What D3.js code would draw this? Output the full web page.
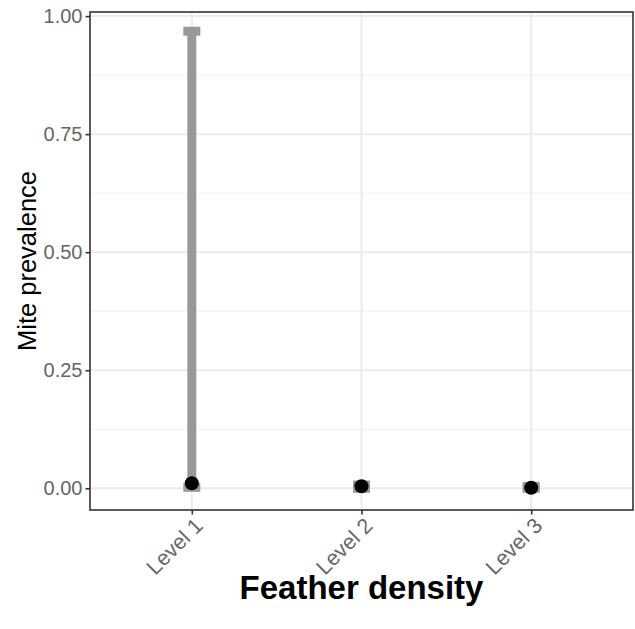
<!DOCTYPE html>
<html><head><meta charset="utf-8">
<script src="https://cdn.jsdelivr.net/npm/d3@7"></script>
<style>body{margin:0;background:#fff}svg{display:block}text{font-family:"Liberation Sans",Arial,sans-serif}</style>
</head><body>
<svg id="c" width="635" height="629"></svg>
<script>
const categories = ["Level 1", "Level 2", "Level 3"];
const meanValues = [0.0106, 0.0042, 0.0012];
const lowerValues = [0.002, 0.0, 0.0];
const upperValues = [0.968, 0.007, 0.004];
const yTicks = [0, 0.25, 0.5, 0.75, 1.0];
const yMinorTicks = [0.125, 0.375, 0.625, 0.875];
const yDomain = [-0.046, 1.0087];
const xTitle = "Feather density";
const yTitle = "Mite prevalence";

const svg = d3.select("#c");
const L = 90, R = 633, T = 12, B = 510;
const x = d3.scalePoint().domain(categories).range([L, R]).padding(0.6);
const y = d3.scaleLinear().domain(yDomain).range([B, T]);

// grid
const g = svg.append("g");
g.selectAll(".minor").data(yMinorTicks).enter().append("line")
  .attr("x1", L).attr("x2", R).attr("y1", d => y(d)).attr("y2", d => y(d))
  .attr("stroke", "#f0f0f0").attr("stroke-width", 1);
g.selectAll(".major").data(yTicks).enter().append("line")
  .attr("x1", L).attr("x2", R).attr("y1", d => y(d)).attr("y2", d => y(d))
  .attr("stroke", "#ebebeb").attr("stroke-width", 2);
g.selectAll(".vmajor").data(categories).enter().append("line")
  .attr("y1", T).attr("y2", B).attr("x1", d => x(d)).attr("x2", d => x(d))
  .attr("stroke", "#ebebeb").attr("stroke-width", 2);

// error bars
const data = categories.map((c, i) => ({c, m: meanValues[i], lo: lowerValues[i], hi: upperValues[i]}));
const eb = svg.append("g").attr("stroke", "#999999").attr("stroke-width", 9);
const capW = 8.5;
data.forEach(d => {
  eb.append("line").attr("x1", x(d.c)).attr("x2", x(d.c)).attr("y1", y(d.lo)).attr("y2", y(d.hi));
  eb.append("line").attr("x1", x(d.c) - capW).attr("x2", x(d.c) + capW).attr("y1", y(d.lo)).attr("y2", y(d.lo));
  eb.append("line").attr("x1", x(d.c) - capW).attr("x2", x(d.c) + capW).attr("y1", y(d.hi)).attr("y2", y(d.hi));
});
svg.append("g").selectAll("circle").data(data).enter().append("circle")
  .attr("cx", d => x(d.c)).attr("cy", d => y(d.m)).attr("r", 7).attr("fill", "#000");

// panel border
svg.append("rect").attr("x", L).attr("y", T).attr("width", R - L).attr("height", B - T)
  .attr("fill", "none").attr("stroke", "#333333").attr("stroke-width", 1.6);

// axes
const yAxis = d3.axisLeft(y).tickValues(yTicks).tickFormat(d3.format(".2f")).tickSize(4.5).tickPadding(3);
const ya = svg.append("g").attr("transform", `translate(${L},0)`).call(yAxis);
ya.select(".domain").remove();
ya.selectAll(".tick line").attr("stroke", "#333333").attr("stroke-width", 1.6);
ya.selectAll(".tick text").attr("fill", "#666666").style("font-size", "20px").attr("font-family", null);

const xAxis = d3.axisBottom(x).tickSize(4.5).tickPadding(3);
const xa = svg.append("g").attr("transform", `translate(0,${B})`).call(xAxis);
xa.select(".domain").remove();
xa.selectAll(".tick line").attr("stroke", "#333333").attr("stroke-width", 1.6);
xa.selectAll(".tick text").attr("fill", "#666666").style("font-size", "21.5px").attr("font-family", null)
  .attr("text-anchor", "end").attr("x", 0).attr("y", 0).attr("dy", "0.72em")
  .attr("transform", "translate(1,6) rotate(-45)");

svg.append("text").attr("x", (L + R) / 2).attr("y", 599).attr("text-anchor", "middle")
  .style("font-size", "33px").style("font-weight", "bold").attr("fill", "#000").text(xTitle);
svg.append("text").attr("transform", `translate(36,${(T + B) / 2}) rotate(-90)`).attr("text-anchor", "middle")
  .style("font-size", "25.5px").attr("fill", "#000").text(yTitle);
</script>
</body></html>
